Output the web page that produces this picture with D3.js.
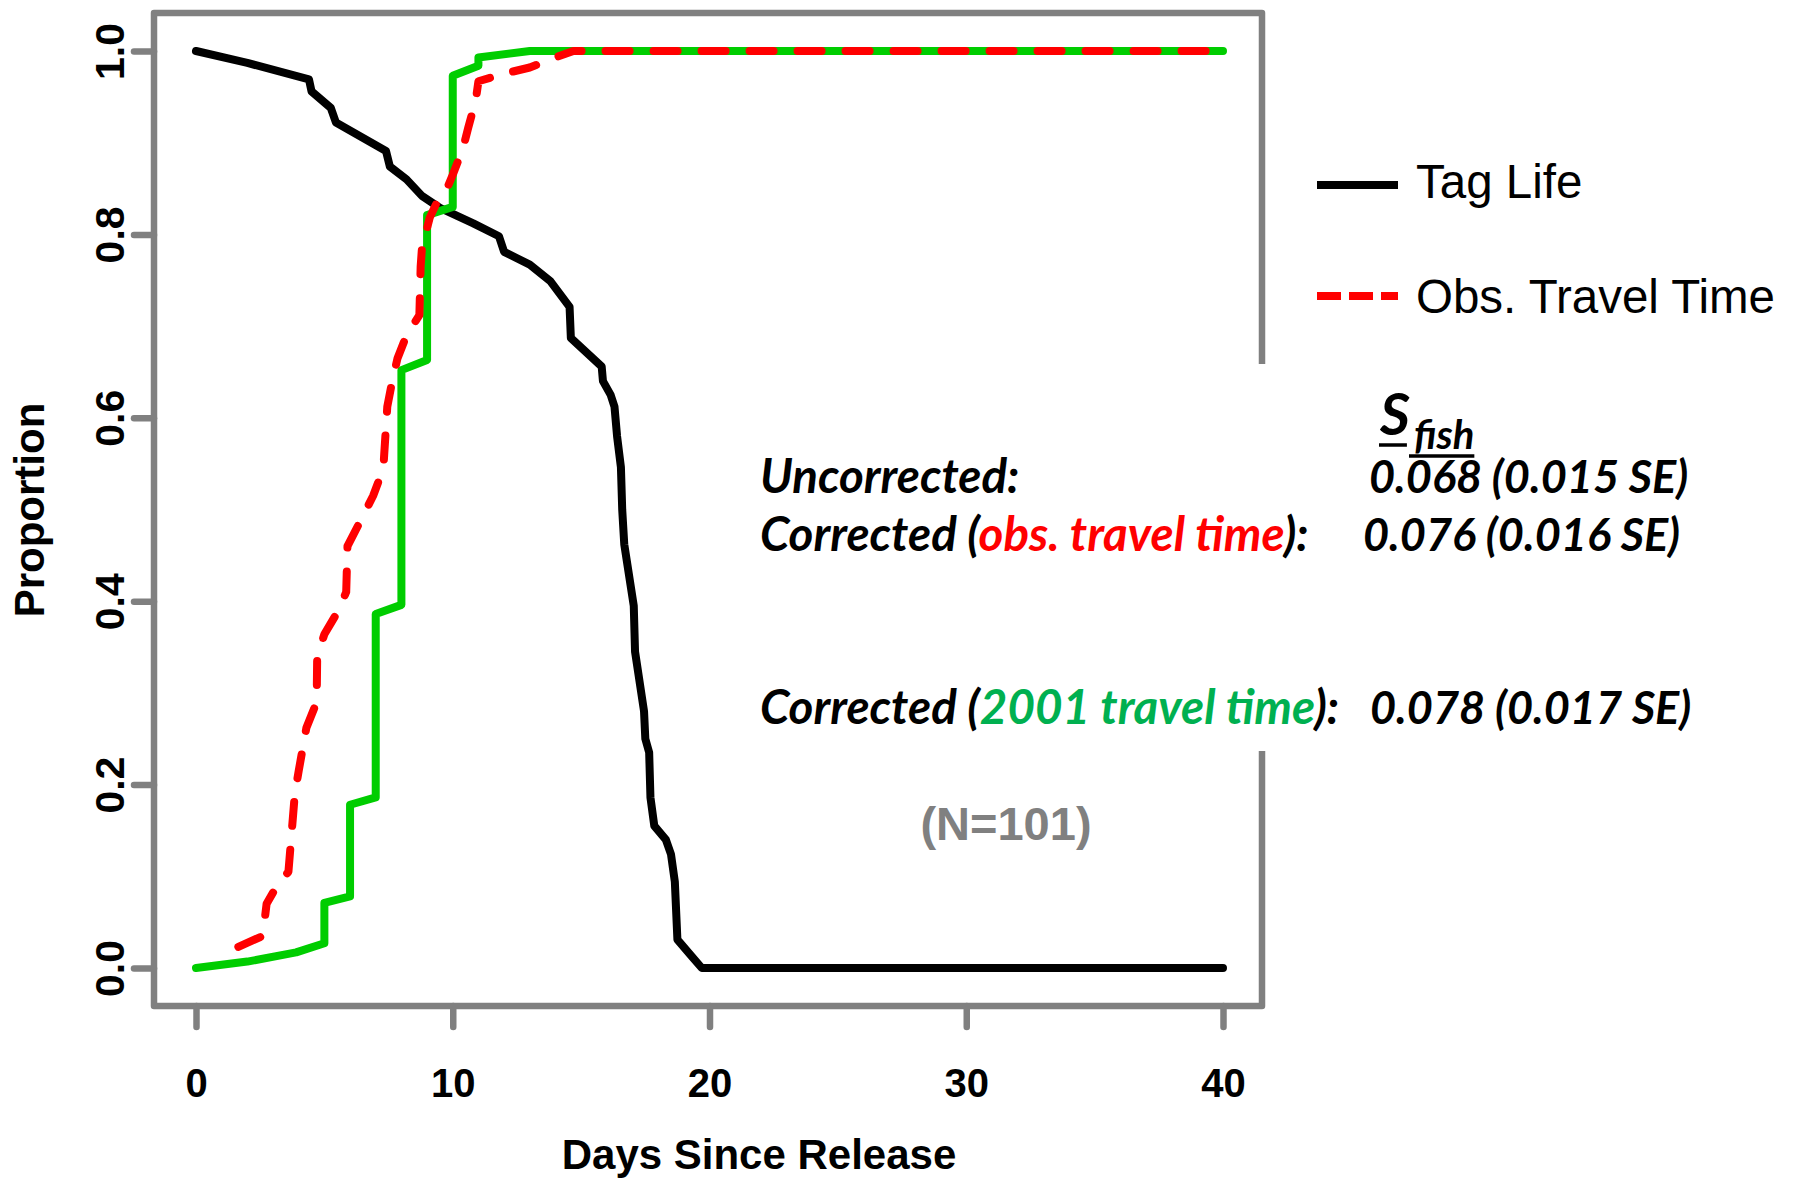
<!DOCTYPE html>
<html>
<head>
<meta charset="utf-8">
<script src="https://cdn.jsdelivr.net/npm/d3@7"></script>
<style>
  body { margin: 0; background: #fff; }
  svg { display: block; }
</style>
</head>
<body>
<div id="chart"></div>
<script>
// Tag life curve (days since release, proportion)
var tagLifeDays = [0, 2, 4.4, 4.5, 5.25, 5.45, 7.4, 7.55, 8.2, 8.8, 9.5, 10.8, 11.8, 12.0, 13.0, 13.8,
                   14.55, 14.6, 15.8, 15.85, 16.15, 16.3, 16.4, 16.55, 16.6, 16.68, 17.05, 17.1, 17.45,
                   17.5, 17.65, 17.7, 17.85, 18.3, 18.5, 18.65, 18.75, 19.3, 19.7, 40];
var tagLifeProp = [1, 0.987, 0.969, 0.956, 0.938, 0.922, 0.891, 0.874, 0.86, 0.842, 0.829, 0.812, 0.798, 0.781, 0.767, 0.749,
                   0.721, 0.687, 0.656, 0.64, 0.625, 0.612, 0.58, 0.546, 0.5, 0.462, 0.395, 0.345, 0.28,
                   0.25, 0.235, 0.186, 0.155, 0.14, 0.124, 0.094, 0.031, 0.013, 0, 0];

// Observed travel time (red dashed)
var obsTravelDays = [1.65, 2.6, 2.75, 3.1, 3.6, 3.85, 4.0, 4.3, 4.7, 4.72, 5.0, 5.55, 5.85, 5.9, 6.45, 6.9, 7.3, 7.33, 7.45,
                     7.65, 7.85, 8.2, 8.7, 8.75, 8.8, 9.1, 9.4, 9.7, 10.0, 10.4, 10.6, 10.9, 11.0, 12.1, 13.0, 14.0, 14.7, 40];
var obsTravelProp = [0.023, 0.035, 0.07, 0.087, 0.105, 0.19, 0.215, 0.262, 0.29, 0.34, 0.364, 0.39, 0.41, 0.46, 0.49, 0.515, 0.545, 0.56, 0.612,
                     0.641, 0.665, 0.69, 0.712, 0.765, 0.785, 0.818, 0.836, 0.845, 0.865, 0.894, 0.916, 0.947, 0.967, 0.976, 0.982, 0.993, 1, 1];

// 2001 travel time (green steps)
var travel2001Days = [0, 2, 3.9, 5, 5, 6, 6, 7, 7, 8, 8, 9, 9, 10, 10, 11, 11, 13, 40];
var travel2001Prop = [0, 0.007, 0.017, 0.027, 0.071, 0.078, 0.178, 0.186, 0.386, 0.396, 0.652, 0.663, 0.821, 0.83, 0.973, 0.984, 0.993, 1, 1];

// Axis ticks and labels
var xTicks = [0, 10, 20, 30, 40];
var yTicks = [0, 0.2, 0.4, 0.6, 0.8, 1.0];
var xLabel = 'Days Since Release';
var yLabel = 'Proportion';
var legendLabels = ['Tag Life', 'Obs. Travel Time'];

// Survival estimates table
var rowPrefix = ['Uncorrected:', 'Corrected (', 'Corrected ('];
var rowHighlight = ['', 'obs. travel time', '2001 travel time'];
var rowSuffix = ['', '):', '):'];
var rowValues = ['0.068 (0.015 SE)', '0.076 (0.016 SE)', '0.078 (0.017 SE)'];
var sampleLabel = '(N=101)';

var gray = '#808080';
var calibri = 'Lato, "Open Sans", sans-serif';
var arial = '"Liberation Sans", Arial, sans-serif';
var lineWidth = 8;

// Plot box in page pixels
var box = {left: 154, right: 1262, top: 13, bottom: 1006};

// x and y scales
var x = d3.scaleLinear().domain([0, 40]).range([196, 1223]);
var y = d3.scaleLinear().domain([0, 1]).range([968, 51]);

var svg = d3.select('#chart')
    .append('svg')
    .attr('width', 1797)
    .attr('height', 1178)
    .style('background', '#fff');

// Draw plot box
svg.append('rect')
    .attr('x', box.left)
    .attr('y', box.top)
    .attr('width', box.right - box.left)
    .attr('height', box.bottom - box.top)
    .attr('fill', 'none')
    .attr('stroke', gray)
    .attr('stroke-width', 6.5)
    .attr('stroke-linejoin', 'round');

// Append x axis
var xAxis = svg.append('g')
    .attr('transform', 'translate(0,' + box.bottom + ')')
    .call(d3.axisBottom(x)
      .tickValues(xTicks)
      .tickSize(21)
      .tickFormat(d3.format('d')));
xAxis.select('.domain').remove();
xAxis.selectAll('line')
    .attr('stroke', gray)
    .attr('stroke-width', 6.5)
    .attr('stroke-linecap', 'round');
xAxis.selectAll('text')
    .attr('y', 91)
    .attr('dy', 0)
    .attr('fill', '#000')
    .style('font-family', arial)
    .style('font-size', '40px')
    .style('font-weight', 'bold');

// Append y axis
var yAxis = svg.append('g')
    .attr('transform', 'translate(' + box.left + ',0)')
    .call(d3.axisLeft(y)
      .tickValues(yTicks)
      .tickSize(20)
      .tickFormat(d3.format('.1f')));
yAxis.select('.domain').remove();
yAxis.selectAll('line')
    .attr('stroke', gray)
    .attr('stroke-width', 6.5)
    .attr('stroke-linecap', 'round');
yAxis.selectAll('text')
    .attr('transform', 'rotate(-90)')
    .attr('x', 0)
    .attr('y', -30)
    .attr('dy', 0)
    .attr('text-anchor', 'middle')
    .attr('fill', '#000')
    .style('font-family', arial)
    .style('font-size', '41px')
    .style('font-weight', 'bold');

// Axis titles
svg.append('text')
    .attr('x', 759)
    .attr('y', 1169)
    .attr('text-anchor', 'middle')
    .style('font-family', arial)
    .style('font-size', '42px')
    .style('font-weight', 'bold')
    .text(xLabel);

svg.append('text')
    .attr('transform', 'translate(44,510) rotate(-90)')
    .attr('text-anchor', 'middle')
    .style('font-family', arial)
    .style('font-size', '42px')
    .style('font-weight', 'bold')
    .text(yLabel);

// Create function for rendering lines
var line = d3.line()
    .x(function(d) { return x(d[0]); })
    .y(function(d) { return y(d[1]); });

// Draw tag life line
svg.append('path')
    .datum(d3.zip(tagLifeDays, tagLifeProp))
    .attr('fill', 'none')
    .attr('stroke', '#000')
    .attr('stroke-width', lineWidth)
    .attr('stroke-linecap', 'round')
    .attr('stroke-linejoin', 'round')
    .attr('d', line);

// Draw 2001 travel time line
svg.append('path')
    .datum(d3.zip(travel2001Days, travel2001Prop))
    .attr('fill', 'none')
    .attr('stroke', '#00cd00')
    .attr('stroke-width', lineWidth)
    .attr('stroke-linecap', 'round')
    .attr('stroke-linejoin', 'round')
    .attr('d', line);

// Draw observed travel time line
svg.append('path')
    .datum(d3.zip(obsTravelDays, obsTravelProp))
    .attr('fill', 'none')
    .attr('stroke', '#ff0000')
    .attr('stroke-width', lineWidth)
    .attr('stroke-dasharray', '24,24')
    .attr('stroke-linecap', 'round')
    .attr('stroke-linejoin', 'round')
    .attr('d', line);

// Legend
var legend = svg.append('g');
legend.append('line')
    .attr('x1', 1317).attr('x2', 1398)
    .attr('y1', 185).attr('y2', 185)
    .attr('stroke', '#000')
    .attr('stroke-width', 8);
legend.append('line')
    .attr('x1', 1317).attr('x2', 1398)
    .attr('y1', 296).attr('y2', 296)
    .attr('stroke', '#ff0000')
    .attr('stroke-width', 8)
    .attr('stroke-dasharray', '24,8');
legend.selectAll('text.legend')
    .data(legendLabels)
    .enter()
    .append('text')
    .attr('class', 'legend')
    .attr('x', 1416)
    .attr('y', function(d, i) { return [198, 313][i]; })
    .style('font-family', arial)
    .style('font-size', '47.5px')
    .text(function(d) { return d; });

// White panel behind the estimates, covering the box edge
svg.append('rect')
    .attr('x', 745)
    .attr('y', 364)
    .attr('width', 975)
    .attr('height', 387)
    .attr('fill', '#fff');

// S_fish header
var sText = svg.append('text')
    .attr('x', 1380)
    .attr('y', 435)
    .style('font-family', calibri)
    .style('font-size', '58px')
    .style('font-weight', 'bold')
    .style('font-style', 'italic')
    .text('S');
var fishText = svg.append('text')
    .attr('x', 1414)
    .attr('y', 449)
    .style('font-family', calibri)
    .style('font-size', '40px')
    .style('font-weight', 'bold')
    .style('font-style', 'italic')
    .text('fish');
svg.append('line')
    .attr('x1', 1379).attr('x2', 1379 + sText.node().getComputedTextLength() - 2)
    .attr('y1', 445).attr('y2', 445)
    .attr('stroke', '#000').attr('stroke-width', 3.5);
svg.append('line')
    .attr('x1', 1409).attr('x2', 1414 + fishText.node().getComputedTextLength())
    .attr('y1', 456).attr('y2', 456)
    .attr('stroke', '#000').attr('stroke-width', 3.5);

// Estimate rows
var rowY = [493, 551, 724];
var valueX = [1369, 1363, 1370];
var rowColors = ['#000', '#ff0000', '#00b050'];

rowPrefix.forEach(function(p, i) {
  var t = svg.append('text')
      .attr('x', 760)
      .attr('y', rowY[i])
      .style('font-family', calibri)
      .style('font-size', '47.5px')
      .style('font-weight', 'bold')
      .style('font-style', 'italic');
  t.append('tspan').text(p);
  t.append('tspan').attr('fill', rowColors[i]).text(rowHighlight[i]);
  t.append('tspan').text(rowSuffix[i]);

  svg.append('text')
      .attr('x', valueX[i])
      .attr('y', rowY[i])
      .style('font-family', calibri)
      .style('font-size', '45px')
      .style('font-weight', 'bold')
      .style('font-style', 'italic')
      .text(rowValues[i]);
});

// Sample size
svg.append('text')
    .attr('x', 1006)
    .attr('y', 840)
    .attr('text-anchor', 'middle')
    .attr('fill', gray)
    .style('font-family', arial)
    .style('font-size', '47px')
    .style('font-weight', 'bold')
    .text(sampleLabel);
</script>
</body>
</html>
